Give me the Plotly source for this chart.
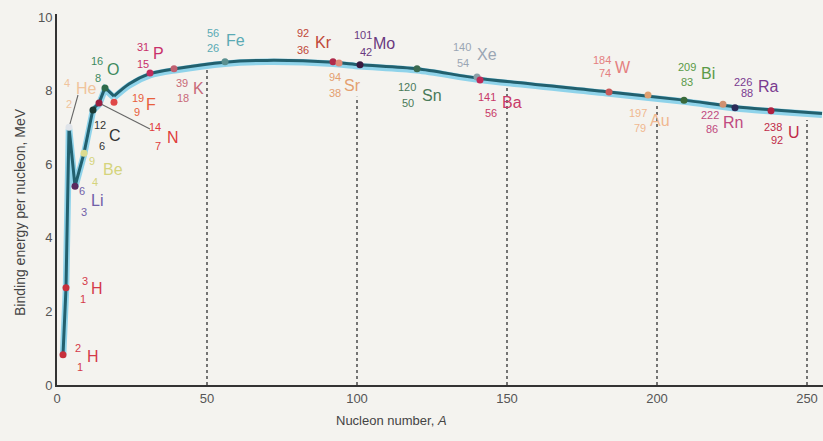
import plotly.graph_objects as go

# ---- data: binding energy per nucleon (MeV) against nucleon number A ----
nuclide_a = [2, 3, 4, 6, 9, 12, 14, 16, 19, 31, 39, 56, 92, 94, 101, 120, 140, 141, 184, 197, 209, 222, 226, 238]
nuclide_z = [1, 1, 2, 3, 4, 6, 7, 8, 9, 15, 18, 26, 36, 38, 42, 50, 54, 56, 74, 79, 83, 86, 88, 92]
nuclide_sym = ["H", "H", "He", "Li", "Be", "C", "N", "O", "F", "P", "K", "Fe", "Kr", "Sr", "Mo", "Sn",
               "Xe", "Ba", "W", "Au", "Bi", "Rn", "Ra", "U"]
nuclide_be = [0.82, 2.64, 7.0, 5.4, 6.3, 7.47, 7.66, 8.07, 7.68, 8.48, 8.59, 8.78, 8.78, 8.75, 8.70, 8.59,
              8.37, 8.29, 7.96, 7.88, 7.74, 7.63, 7.53, 7.45]

# smooth curve drawn through the nuclides
curve_a = [2, 3, 4, 6, 9, 12, 14, 16, 19, 24, 31, 40, 56, 70, 92, 101, 120, 141, 184, 209, 226, 238, 255]
curve_be = [0.82, 2.64, 7.0, 5.4, 6.3, 7.5, 7.66, 8.08, 7.85, 8.18, 8.46, 8.6, 8.77, 8.82, 8.77, 8.7,
            8.59, 8.33, 7.96, 7.74, 7.56, 7.48, 7.38]
JAG_END = 9  # first 9 curve points are joined by straight segments

# dotted guides from the axis up to the curve
guide_a = [50, 100, 150, 200, 250]
guide_top = [8.56, 7.83, 8.07, 7.6, 7.2]

x_ticks = [0, 50, 100, 150, 200, 250]
y_ticks = [0, 2, 4, 6, 8, 10]

# ---- styling ----
dot_colors = ["#c8303c", "#c8303c", "#dfe4ea", "#5a2a60", "#dcdc90", "#1a3a34", "#9a2040", "#2e6a4a",
              "#e04848", "#c02c5c", "#c06070", "#5a9090", "#b02a4a", "#e08a78", "#3a1a40", "#3a6a50",
              "#8aa0a8", "#c02a58", "#c85858", "#e0a070", "#3a6a3a", "#d09070", "#2a2a58", "#b02040"]
label_colors = ["#d43a4a", "#d43a4a", "#f0c49c", "#7060a8", "#d4d47c", "#333333", "#e03c3c", "#3e8a5e",
                "#e8603c", "#c8306a", "#c86a78", "#5aaab4", "#c04838", "#e4a070", "#6a3a80", "#4a7a5a",
                "#9aa6b4", "#c83a68", "#e48080", "#f0b890", "#5a9a48", "#c04a80", "#7a3a90", "#c02a48"]
# label placement in pixels: (mass x, mass y), (Z x, Z y), (symbol x, symbol y)
label_px = [
    ((78, 348), (80, 367), (93, 356)),
    ((85, 281), (83, 299), (97, 288)),
    ((67, 83), (69, 104), (86, 88)),
    ((82, 191), (84, 212), (97, 200)),
    ((92, 161), (95, 182), (113, 169)),
    ((100, 125), (102, 146), (115, 135)),
    ((155, 127), (158, 146), (173, 137)),
    ((97, 61), (98, 78), (113, 69)),
    ((138, 98), (137, 112), (151, 104)),
    ((143, 47), (143, 64), (158, 53)),
    ((182, 83), (183, 98), (198, 88)),
    ((213, 33), (213, 48), (235, 40)),
    ((303, 33), (303, 50), (323, 42)),
    ((335, 77), (335, 93), (352, 85)),
    ((363, 35), (366, 52), (384, 43)),
    ((407, 87), (408, 103), (432, 95)),
    ((462, 47), (463, 63), (487, 54)),
    ((487, 97), (491, 113), (512, 102)),
    ((602, 60), (605, 73), (623, 67)),
    ((638, 113), (640, 128), (660, 120)),
    ((687, 67), (687, 82), (708, 73)),
    ((710, 115), (712, 129), (733, 122)),
    ((743, 82), (747, 93), (768, 86)),
    ((773, 127), (777, 140), (794, 132)),
]

W, H = 823, 441
L, R, T, B = 57, 0, 14, 56
X_MAX = (W - L - R) / 3.0
Y_MAX = 10.08
PX_A = (W - L - R) / X_MAX
PX_E = (H - T - B) / Y_MAX
FONT = "Liberation Sans, Arial, Helvetica, sans-serif"


def px_x(px):
    return (px - L) / PX_A


def px_y(py):
    return (H - B - py) / PX_E


fig = go.Figure()

# dotted guides
gx, gy = [], []
for a, top in zip(guide_a, guide_top):
    gx += [a, a, None]
    gy += [0, top, None]
fig.add_trace(go.Scatter(x=gx, y=gy, mode="lines", line=dict(color="#555555", width=1.6, dash="dot"),
                         hoverinfo="skip", showlegend=False))

# curve: light halo, then dark core
low_a, low_be = curve_a[:JAG_END], curve_be[:JAG_END]
high_a, high_be = curve_a[JAG_END - 1:], curve_be[JAG_END - 1:]
for color, width, dy in (("#8fd3ea", 6.5, -0.04), ("#22606e", 3.0, 0.0)):
    fig.add_trace(go.Scatter(x=low_a, y=[v + dy for v in low_be], mode="lines",
                             line=dict(color=color, width=width, shape="linear"),
                             hoverinfo="skip", showlegend=False))
    fig.add_trace(go.Scatter(x=high_a, y=[v + dy for v in high_be], mode="lines",
                             line=dict(color=color, width=width, shape="spline", smoothing=0.8),
                             hoverinfo="skip", showlegend=False))

# leader lines from labels to the He and N points
i_he = nuclide_sym.index("He")
i_n = nuclide_sym.index("N")
for idx, (lx, ly) in ((i_he, (78, 95)), (i_n, (150, 129))):
    fig.add_trace(go.Scatter(x=[px_x(lx), nuclide_a[idx]], y=[px_y(ly), nuclide_be[idx]], mode="lines",
                             line=dict(color="#666666", width=1.1), hoverinfo="skip", showlegend=False))

# nuclide points
fig.add_trace(go.Scatter(x=nuclide_a, y=nuclide_be, mode="markers",
                         marker=dict(color=dot_colors, size=7, line=dict(width=0)),
                         hovertemplate="A=%{x}<br>%{y} MeV<extra></extra>", showlegend=False))

# isotope labels: mass number over atomic number, then the symbol
annotations = []
for a, z, sym, col, ((mx, my), (zx, zy), (sx, sy)) in zip(nuclide_a, nuclide_z, nuclide_sym,
                                                            label_colors, label_px):
    for txt, x, y, size in ((str(a), mx, my, 11), (str(z), zx, zy, 11), (sym, sx, sy, 16)):
        annotations.append(dict(x=px_x(x), y=px_y(y), xref="x", yref="y", text=txt, showarrow=False,
                                xanchor="center", yanchor="middle",
                                font=dict(family=FONT, size=size, color=col)))

annotations.append(dict(x=(20 - L) / (W - L - R), y=(H - B - 212) / (H - T - B), xref="paper", yref="paper",
                        text="Binding energy per nucleon, MeV", textangle=-90, showarrow=False,
                        xanchor="center", yanchor="middle", font=dict(family=FONT, size=14, color="#444444")))
annotations.append(dict(x=(391 - L) / (W - L - R), y=(H - B - 420) / (H - T - B), xref="paper", yref="paper",
                        text="Nucleon number, <i>A</i>", showarrow=False,
                        xanchor="center", yanchor="middle", font=dict(family=FONT, size=13, color="#444444")))

fig.update_layout(
    width=W, height=H,
    margin=dict(l=L, r=R, t=T, b=B),
    paper_bgcolor="#f4f3ef", plot_bgcolor="#f4f3ef",
    annotations=annotations,
    xaxis=dict(range=[0, X_MAX], tickvals=x_ticks, showgrid=False, zeroline=False,
               showline=True, linecolor="#333333", linewidth=2, ticks="",
               tickfont=dict(family=FONT, size=13, color="#555555")),
    yaxis=dict(range=[0, Y_MAX], tickvals=y_ticks, showgrid=False, zeroline=False,
               showline=True, linecolor="#333333", linewidth=2, ticks="",
               tickfont=dict(family=FONT, size=13, color="#555555")),
)

fig.write_html("out.html")
